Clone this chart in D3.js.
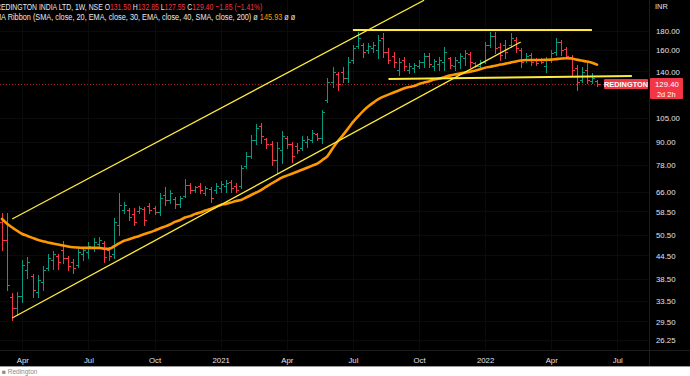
<!DOCTYPE html>
<html><head><meta charset="utf-8">
<script src="https://cdn.jsdelivr.net/npm/d3@7"></script>
<style>html,body{margin:0;padding:0;background:#fff;}svg{display:block;}</style>
</head><body>
<svg id="chart" width="690" height="376"></svg>
<script>
// ---------- DATA (weekly OHLC, REDINGTON NSE, log scale) ----------
const firstWeek = "2020-03-09";
const opens = [
54.8,49.0,34.3,32.0,34.5,40.6,39.1,35.4,37.7,41.1,
43.2,44.3,46.0,43.8,42.7,41.9,44.9,45.4,46.9,47.8,
48.0,46.0,44.9,53.7,59.0,59.0,57.6,58.6,59.4,60.5,
59.7,58.3,64.8,62.8,63.2,61.3,64.4,69.0,66.9,68.5,
65.6,67.3,66.9,67.7,68.5,70.3,68.5,68.5,77.6,82.6,
91.3,99.6,91.8,89.0,80.6,85.8,92.4,89.0,87.9,86.8,
90.1,91.3,94.8,92.4,117.1,130.9,137.6,139.3,134.2,150.2,
163.9,164.9,159.9,161.9,159.9,172.3,157.9,154.0,141.0,150.2,
141.0,142.8,144.6,148.3,154.0,144.6,146.5,148.3,152.1,144.6,
148.3,152.1,155.9,147.4,144.6,148.3,164.9,174.5,162.9,164.9,
164.9,170.2,159.9,150.2,155.0,150.2,151.1,144.6,150.2,157.9,
168.1,160.9,153.0,142.8,132.5,141.0,131.7,131.50];
const highs = [
57.9,57.9,35.2,35.4,43.2,44.0,39.6,39.4,41.6,44.9,
45.7,44.9,48.7,44.3,43.5,46.6,46.9,48.4,49.6,49.9,
48.7,46.9,56.1,65.6,62.0,59.7,59.7,60.5,60.1,61.6,
60.5,65.6,68.1,66.9,64.0,64.4,71.6,69.8,68.5,69.8,
68.5,68.1,69.8,70.7,71.1,71.1,69.8,78.1,84.7,94.2,
100.8,101.5,92.4,90.7,90.1,96.5,93.6,90.1,89.6,93.6,
93.6,97.1,95.3,110.0,134.2,143.7,139.3,143.7,153.0,164.9,
178.9,167.0,167.0,168.1,175.6,177.8,161.9,157.9,152.1,153.0,
147.4,147.4,150.2,156.9,156.9,151.1,153.0,162.9,153.0,153.0,
156.9,159.9,157.9,148.3,150.2,168.1,178.9,178.9,167.0,170.2,
177.8,173.4,161.9,156.9,156.9,152.1,152.1,153.0,159.9,172.3,
170.2,162.9,155.0,145.6,143.7,147.4,138.4,132.85];
const lows = [
46.0,35.8,29.7,30.7,33.3,38.6,34.3,34.3,35.8,40.6,
40.9,40.9,42.4,40.6,39.9,41.4,43.2,43.8,45.7,46.6,
42.7,43.2,43.8,50.5,57.9,55.4,53.7,57.9,53.7,57.9,
57.6,57.2,60.9,61.6,59.7,60.1,64.0,65.6,66.0,65.6,
64.8,62.0,65.6,66.0,66.0,66.0,66.0,67.7,76.7,81.6,
89.0,89.6,86.8,78.1,74.3,79.1,86.8,79.6,84.2,85.8,
87.4,90.1,91.3,89.6,115.6,126.9,124.5,130.9,130.9,147.4,
161.9,153.0,156.9,157.9,152.1,153.0,147.4,143.7,136.7,141.0,
138.4,139.3,142.8,143.7,143.7,141.0,141.0,141.0,142.8,141.0,
142.8,145.6,143.7,143.7,143.7,147.4,162.9,156.9,150.2,152.1,
162.9,157.9,143.7,148.3,145.6,145.6,147.4,139.3,148.3,155.0,
155.0,152.1,136.7,124.5,130.9,130.1,130.1,127.55];
const closes = [
49.0,37.0,32.0,34.5,41.9,42.7,35.8,38.2,40.6,43.8,
44.9,42.7,43.8,41.6,41.1,45.4,46.0,47.2,48.4,49.0,
44.0,44.3,54.8,60.9,60.9,56.5,54.8,59.7,55.4,59.0,
58.3,63.6,62.8,65.6,61.3,63.6,69.0,66.9,68.1,66.9,
67.7,63.6,68.5,69.4,69.8,67.7,66.9,76.7,82.6,91.3,
98.4,93.6,89.0,80.6,86.8,93.6,89.0,82.6,85.8,91.3,
91.8,95.3,92.4,108.7,130.9,139.3,129.3,134.2,148.3,161.9,
172.3,157.9,163.9,164.9,170.2,157.9,150.2,148.3,148.3,144.6,
144.6,145.6,148.3,154.0,146.5,149.2,150.2,157.9,145.6,150.2,
154.0,156.9,148.3,144.6,148.3,164.9,174.5,161.9,155.0,157.9,
172.3,161.9,148.3,154.0,148.3,147.4,148.3,150.2,156.9,168.1,
159.9,154.0,141.0,130.9,139.3,132.5,134.2,129.40];
// MA Ribbon visible line (EMA 30)
const maValues = [
55.8,54.2,52.9,51.8,50.8,50.2,49.6,49.0,48.6,48.2,
47.9,47.6,47.3,47.0,46.8,46.7,46.6,46.6,46.6,46.6,
46.4,46.3,47.0,47.9,48.7,49.2,49.7,50.2,50.8,51.3,
51.9,52.6,53.2,53.9,54.8,55.4,56.3,56.8,57.6,58.1,
58.8,59.4,60.1,60.9,61.3,61.8,62.4,62.8,63.8,64.8,
65.8,66.9,68.3,69.6,70.9,72.2,73.1,74.0,74.9,75.8,
76.8,77.8,78.8,80.6,82.6,86.6,90.4,93.9,97.8,102.0,
105.7,109.3,112.4,115.2,117.8,119.6,121.1,122.7,124.2,125.8,
126.9,127.7,129.3,130.5,131.7,133.0,133.8,135.0,136.3,137.2,
138.0,138.9,139.7,140.6,141.9,143.2,144.1,145.0,146.0,146.9,
147.8,148.8,149.7,150.2,150.2,150.2,150.2,150.4,150.6,151.1,
151.6,151.9,151.6,150.6,149.7,148.8,147.8,145.93];
// drawn trend lines [date, price]
const channelUpper = [["2020-03-23",55.8],["2021-10-11",218]];
const channelLower = [["2020-03-23",30.1],["2022-02-21",168.1]];
const resistanceLine = [["2021-07-05",181.1],["2022-05-30",181.1]];
const supportLine = [["2021-08-23",133.5],["2022-07-24",135.9]];
// axis ticks (the 120.00 label sits hidden under the last-price tag)
const yTickValues = [180,160,140,105,90,78,66,58.5,50.5,44.5,38.5,33.5,29.5,26.25];
const yTickLabels = ["180.00","160.00","140.00","105.00","90.00","78.00","66.00","58.50","50.50","44.50","38.50","33.50","29.50","26.25"];
const xTickDates = ["2020-04-06","2020-07-06","2020-10-05","2021-01-04","2021-04-05","2021-07-05","2021-10-04","2022-01-03","2022-04-04","2022-07-04"];
const xTickLabels = ["Apr","Jul","Oct","2021","Apr","Jul","Oct","2022","Apr","Jul"];
const lastPrice = 129.40;

// ---------- DRAW ----------
const parse = d3.timeParse("%Y-%m-%d");
const svg = d3.select("#chart");
const W = 690, H = 376, plotR = 649, plotB = 350, bgB = 366;
const FONT = "'Liberation Sans', Arial, sans-serif";

const x = d3.scaleTime().domain([parse("2020-03-09"), parse("2022-06-06")]).range([2, 597]);
const y = d3.scaleLog().domain([26.25, 180]).range([340, 31]);

const start = parse(firstWeek);
const bars = opens.map((o, i) => ({
  date: d3.timeWeek.offset(start, i), o, h: highs[i], l: lows[i], c: closes[i], ma: maValues[i]
}));

svg.append("rect").attr("width", W).attr("height", H).attr("fill", "#ffffff");
svg.append("rect").attr("width", W).attr("height", bgB).attr("fill", "#000000");

svg.append("defs").append("clipPath").attr("id", "plotClip")
  .append("rect").attr("x", 0).attr("y", 0).attr("width", plotR).attr("height", plotB);

// grid (very faint)
const grid = svg.append("g");
xTickDates.forEach(d => {
  const gx = Math.round(x(parse(d))) + 0.5;
  grid.append("line").attr("x1", gx).attr("x2", gx).attr("y1", 0).attr("y2", plotB)
    .attr("stroke", "#0b0b0b").attr("stroke-width", 1);
});
yTickValues.forEach(v => {
  const gy = Math.round(y(v)) + 0.5;
  grid.append("line").attr("x1", 0).attr("x2", plotR).attr("y1", gy).attr("y2", gy)
    .attr("stroke", "#0b0b0b").attr("stroke-width", 1);
});

const plot = svg.append("g").attr("clip-path", "url(#plotClip)");

// last price dotted line
const lpY = Math.round(y(lastPrice)) + 0.5;
plot.append("line").attr("x1", 0).attr("x2", 604).attr("y1", lpY).attr("y2", lpY)
  .attr("stroke", "#b0202e").attr("stroke-width", 1).attr("stroke-dasharray", "1,2");

// OHLC bars
const up = "#089981", down = "#f23645";
plot.append("g").selectAll("path").data(bars).join("path")
  .attr("d", d => {
    const bx = Math.round(x(d.date)) + 0.5;
    const yh = Math.round(y(d.h)), yl = Math.round(y(d.l)) + 1;
    const yo = Math.round(y(d.o)) + 0.5, yc = Math.round(y(d.c)) + 0.5;
    return `M${bx},${yh}V${yl}M${bx - 2.5},${yo}H${bx}M${bx},${yc}H${bx + 2.5}`;
  })
  .attr("fill", "none")
  .attr("stroke", d => d.c >= d.o ? up : down)
  .attr("stroke-width", 1);

// MA line
const maLine = d3.line().x(d => x(d.date)).y(d => y(d.ma)).curve(d3.curveMonotoneX);
plot.append("path").datum(bars).attr("d", maLine)
  .attr("fill", "none").attr("stroke", "#ff9800").attr("stroke-width", 2.6)
  .attr("stroke-linejoin", "round").attr("stroke-linecap", "round");

// trend lines
const tl = d3.line().x(d => x(parse(d[0]))).y(d => y(d[1]));
[[channelUpper, 1.3], [channelLower, 1.3], [resistanceLine, 2], [supportLine, 2]].forEach(([pts, w]) => {
  plot.append("path").attr("d", tl(pts)).attr("fill", "none")
    .attr("stroke", "#ffeb3b").attr("stroke-width", w);
});

// axes separators
svg.append("line").attr("x1", plotR + 0.5).attr("x2", plotR + 0.5).attr("y1", 0).attr("y2", bgB)
  .attr("stroke", "#1c1c1c");
svg.append("line").attr("x1", 0).attr("x2", W).attr("y1", plotB + 0.5).attr("y2", plotB + 0.5)
  .attr("stroke", "#1c1c1c");
svg.append("rect").attr("x", 0).attr("y", bgB).attr("width", W).attr("height", 1).attr("fill", "#9a9a9a");

// y axis (right) labels
const yAxis = d3.axisRight(y).tickValues(yTickValues)
  .tickFormat((d, i) => yTickLabels[i]).tickSize(0).tickPadding(0);
const yg = svg.append("g").attr("transform", `translate(656,0)`).call(yAxis);
yg.select(".domain").remove();
yg.selectAll("text").attr("fill", "#e0e3eb").attr("font-size", 7.8).attr("font-family", FONT)
  .attr("text-anchor", "start").attr("dy", "0.35em");

svg.append("text").attr("x", 655).attr("y", 9).text("INR")
  .attr("fill", "#e0e3eb").attr("font-size", 7.4).attr("font-family", FONT);

// x axis labels
const xAxis = d3.axisBottom(x).tickValues(xTickDates.map(parse))
  .tickFormat((d, i) => xTickLabels[i]).tickSize(0).tickPadding(0);
const xg = svg.append("g").attr("transform", `translate(0,357.5)`).call(xAxis);
xg.select(".domain").remove();
xg.selectAll("text").attr("fill", "#e0e3eb").attr("font-size", 7.8).attr("font-family", FONT);

// symbol label on last price
const lbl = svg.append("g");
lbl.append("rect").attr("x", 604).attr("y", 79).attr("width", 44).attr("height", 10)
  .attr("rx", 1).attr("fill", "#f23645");
lbl.append("text").attr("x", 626).attr("y", 87).attr("text-anchor", "middle")
  .attr("fill", "#fff").attr("font-size", 7.4).attr("font-weight", "bold")
  .attr("font-family", FONT).text("REDINGTON");
lbl.append("rect").attr("x", 650).attr("y", 78).attr("width", 33).attr("height", 21)
  .attr("rx", 1).attr("fill", "#f23645");
lbl.append("text").attr("x", 655).attr("y", 87).attr("fill", "#fff")
  .attr("font-size", 7.8).attr("font-family", FONT).text(lastPrice.toFixed(2));
lbl.append("text").attr("x", 657).attr("y", 96.5).attr("fill", "#fff")
  .attr("font-size", 7.4).attr("font-family", FONT).text("2d 2h");

// header (legend) — one text per line, coloured tspans, condensed with a horizontal scale
const white = "#e8eaf0", red = "#f23645";
const headerLine1 = [
  ["REDINGTON INDIA LTD, 1W, NSE  ", white], ["O", white], ["131.50 ", red],
  ["H", white], ["132.85 ", red], ["L", white], ["127.55 ", red],
  ["C", white], ["129.40 ", red], ["\u22121.85 (\u22121.41%)", red]
];
const headerLine2 = [
  ["MA Ribbon (SMA, close, 20, EMA, close, 30, EMA, close, 40, SMA, close, 200)  ", white],
  ["\u00f8 ", white], ["145.93  ", "#ff9800"], ["\u00f8  ", white], ["\u00f8", white]
];
function headerText(parts, px, py, len) {
  const g = svg.append("g");
  const t = g.append("text").attr("x", 0).attr("y", py)
    .attr("font-family", FONT).attr("font-size", 9.4);
  parts.forEach(([s, c]) => t.append("tspan").attr("fill", c).text(s));
  const natural = t.node().getComputedTextLength();
  g.attr("transform", `translate(${px},0) scale(${len / natural},1)`);
}
headerText(headerLine1, -4, 10, 266);
headerText(headerLine2, -5, 20.5, 300);

// bottom strip
svg.append("text").attr("x", 2).attr("y", 374).attr("fill", "#8a8a8a")
  .attr("font-size", 6.5).attr("font-family", FONT).text("\u25a0 Redington");
</script>
</body></html>
